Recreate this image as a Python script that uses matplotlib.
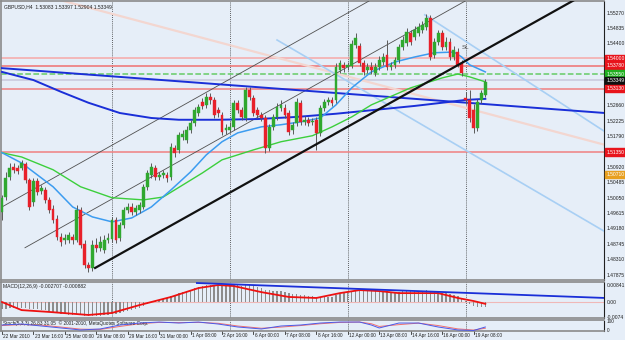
import matplotlib
matplotlib.use('Agg')
import matplotlib.pyplot as plt
import matplotlib.transforms as mtransforms
from matplotlib.patches import Rectangle

plt.rcParams['font.family'] = ['Liberation Sans', 'DejaVu Sans']

# ---------------- data ----------------
title = "GBPUSD,H4  1.53083 1.53397 1.52904 1.53349"

opens = [1.4966,1.5008,1.5065,1.5093,1.5090,1.5090,1.5102,1.5056,1.4994,1.5054,
         1.5025,1.5028,1.5000,1.4975,1.4946,1.4896,1.4887,1.4887,1.4896,1.4887,
         1.4972,1.4876,1.4817,1.4808,1.4873,1.4865,1.4859,1.4887,1.4890,1.4944,
         1.4893,1.4930,1.4972,1.4980,1.4966,1.4972,1.4980,1.5037,1.5071,1.5090,
         1.5065,1.5071,1.5071,1.5065,1.5147,1.5141,1.5178,1.5169,1.5197,1.5217,
         1.5245,1.5276,1.5268,1.5291,1.5282,1.5254,1.5240,1.5197,1.5197,1.5206,
         1.5274,1.5254,1.5231,1.5310,1.5288,1.5254,1.5240,1.5231,1.5147,1.5206,
         1.5234,1.5259,1.5259,1.5245,1.5197,1.5217,1.5274,1.5220,1.5226,1.5220,
         1.5226,1.5189,1.5259,1.5276,1.5282,1.5282,1.5367,1.5381,1.5375,1.5378,
         1.5437,1.5434,1.5386,1.5367,1.5375,1.5358,1.5375,1.5389,1.5409,1.5375,
         1.5381,1.5395,1.5431,1.5443,1.5471,1.5460,1.5471,1.5479,1.5488,1.5513,
         1.5409,1.5446,1.5471,1.5431,1.5446,1.5403,1.5417,1.5386,1.5288,1.5282,
         1.5254,1.5203,1.5282,1.5296]
highs = [1.5014,1.5079,1.5104,1.5104,1.5099,1.5113,1.5107,1.5062,1.5062,1.5062,
         1.5042,1.5037,1.5008,1.4986,1.4958,1.4907,1.4904,1.4910,1.4904,1.4986,
         1.4980,1.4887,1.4825,1.4887,1.4893,1.4899,1.4901,1.4907,1.4952,1.4952,
         1.4938,1.4980,1.4992,1.4992,1.4986,1.4994,1.5045,1.5085,1.5104,1.5099,
         1.5079,1.5085,1.5079,1.5161,1.5155,1.5192,1.5197,1.5209,1.5226,1.5262,
         1.5271,1.5288,1.5302,1.5302,1.5291,1.5262,1.5248,1.5214,1.5220,1.5282,
         1.5282,1.5262,1.5319,1.5319,1.5296,1.5262,1.5248,1.5240,1.5214,1.5243,
         1.5274,1.5282,1.5271,1.5254,1.5220,1.5288,1.5282,1.5237,1.5234,1.5231,
         1.5234,1.5268,1.5285,1.5291,1.5291,1.5386,1.5395,1.5389,1.5389,1.5451,
         1.5471,1.5443,1.5395,1.5386,1.5389,1.5386,1.5406,1.5415,1.5451,1.5389,
         1.5403,1.5440,1.5462,1.5485,1.5479,1.5491,1.5499,1.5505,1.5524,1.5522,
         1.5457,1.5479,1.5479,1.5460,1.5457,1.5434,1.5429,1.5395,1.5305,1.5310,
         1.5271,1.5285,1.5310,1.5341]
lows = [1.4944,1.5000,1.5056,1.5076,1.5073,1.5085,1.5048,1.4972,1.4983,1.5014,
        1.5017,1.4992,1.4963,1.4935,1.4887,1.4870,1.4876,1.4879,1.4876,1.4882,
        1.4865,1.4808,1.4797,1.4800,1.4853,1.4856,1.4851,1.4879,1.4882,1.4879,
        1.4884,1.4921,1.4963,1.4958,1.4958,1.4963,1.4975,1.5028,1.5062,1.5056,
        1.5056,1.5062,1.5051,1.5056,1.5121,1.5133,1.5169,1.5161,1.5189,1.5209,
        1.5237,1.5257,1.5259,1.5271,1.5231,1.5234,1.5183,1.5186,1.5189,1.5197,
        1.5245,1.5226,1.5223,1.5282,1.5237,1.5231,1.5223,1.5133,1.5138,1.5197,
        1.5226,1.5251,1.5231,1.5183,1.5186,1.5209,1.5212,1.5212,1.5209,1.5212,
        1.5141,1.5181,1.5251,1.5268,1.5265,1.5274,1.5358,1.5361,1.5367,1.5372,
        1.5429,1.5378,1.5352,1.5358,1.5355,1.5350,1.5367,1.5381,1.5367,1.5367,
        1.5372,1.5386,1.5423,1.5434,1.5437,1.5451,1.5462,1.5471,1.5479,1.5395,
        1.5400,1.5437,1.5423,1.5423,1.5395,1.5395,1.5375,1.5350,1.5271,1.5220,
        1.5189,1.5195,1.5274,1.5291]
closes = [1.5006,1.5062,1.5090,1.5085,1.5082,1.5104,1.5056,1.4980,1.5054,1.5023,
          1.5034,1.5000,1.4972,1.4944,1.4896,1.4882,1.4893,1.4901,1.4887,1.4972,
          1.4873,1.4817,1.4808,1.4873,1.4865,1.4882,1.4887,1.4893,1.4944,1.4887,
          1.4930,1.4972,1.4980,1.4966,1.4977,1.4986,1.5037,1.5076,1.5093,1.5065,
          1.5071,1.5076,1.5062,1.5150,1.5133,1.5183,1.5186,1.5197,1.5217,1.5254,
          1.5262,1.5265,1.5291,1.5282,1.5240,1.5245,1.5192,1.5203,1.5206,1.5274,
          1.5254,1.5234,1.5310,1.5291,1.5245,1.5240,1.5231,1.5147,1.5206,1.5234,
          1.5262,1.5268,1.5240,1.5192,1.5212,1.5276,1.5220,1.5226,1.5217,1.5223,
          1.5189,1.5259,1.5276,1.5282,1.5274,1.5375,1.5386,1.5372,1.5381,1.5440,
          1.5457,1.5386,1.5361,1.5375,1.5367,1.5375,1.5395,1.5403,1.5375,1.5381,
          1.5395,1.5431,1.5451,1.5474,1.5446,1.5479,1.5488,1.5494,1.5513,1.5403,
          1.5446,1.5471,1.5431,1.5446,1.5403,1.5423,1.5381,1.5358,1.5282,1.5231,
          1.5203,1.5276,1.5302,1.5333]

# moving averages (sampled at bar indices)
ma_fast_idx = [0,5,13,18,23,28,33,38,43,48,52,56,60,66,71,76,81,85,89,94,100,105,110,115,117,119,123]
ma_fast = [1.5133,1.5104,1.5037,1.4980,1.4952,1.4938,1.4949,1.4980,1.5028,1.5079,1.5127,1.5164,
           1.5189,1.5206,1.5212,1.5220,1.5231,1.5268,1.5316,1.5361,1.5389,1.5403,1.5415,1.5417,
           1.5403,1.5381,1.5361]
ma_mid_idx = [0,5,13,20,28,36,41,46,51,56,64,71,79,84,89,94,104,112,116,119,123]
ma_mid = [1.5133,1.5121,1.5085,1.5037,1.5006,1.5000,1.5008,1.5042,1.5076,1.5113,1.5141,1.5164,
          1.5181,1.5206,1.5234,1.5268,1.5316,1.5344,1.5355,1.5347,1.5333]
ma_slow_idx = [0,8,15,22,30,38,45,55,65,75,85,95,105,112,118,123]
ma_slow = [1.5361,1.5338,1.5305,1.5274,1.5245,1.5231,1.5226,1.5226,1.5228,1.5234,1.5243,1.5254,
           1.5265,1.5274,1.5282,1.5285]

# drawn objects: (bar, price) end points
trend_black = [(23.7, 1.4808), (146.0, 1.5566)]
channel_a = [(-0.5, 1.4977), (94.2, 1.5566)]
channel_b = [(5.85, 1.4865), (118.7, 1.5566)]
trend_blue = [(-0.5, 1.5372), (153.5, 1.5245)]
fan_light1 = [(107.6, 1.5522), (153.5, 1.5192)]
fan_light2 = [(70.0, 1.5451), (153.5, 1.4910)]
salmon1 = [(14.0, 1.5566), (153.5, 1.5155)]

levels = [1.5400, 1.5378, 1.5355, 1.5338, 1.5313, 1.5135]
level_colors = ['#f6a8a8', '#f07070', '#66cc66', '#c8c8dc', '#f08080', '#f08080']
level_styles = ['-', '-', '--', '-', '-', '-']
boxes = [(1.5400, '1.54000', '#e8141c'), (1.5378, '1.53780', '#e8141c'),
         (1.5355, '1.53550', '#20b020'), (1.5338, '1.53349', '#101010'),
         (1.5313, '1.53130', '#e8141c'), (1.5135, '1.51350', '#e8141c'),
         (1.5071, '1.50710', '#e8a020')]
price_ticks = ["1.55270","1.54835","1.54400","1.52660","1.52225","1.51790","1.50920",
               "1.50485","1.50050","1.49615","1.49180","1.48745","1.48310","1.47875"]

week_starts = [28, 58, 88, 118]
time_idx = [0,8,16,24,32,40,48,56,64,72,80,88,96,104,112,120]
time_labels = ["22 Mar 2010","23 Mar 16:00","25 Mar 00:00","26 Mar 08:00","29 Mar 16:00",
               "31 Mar 00:00","1 Apr 08:00","2 Apr 16:00","6 Apr 00:00","7 Apr 08:00",
               "8 Apr 16:00","12 Apr 00:00","13 Apr 08:00","14 Apr 16:00","16 Apr 00:00",
               "19 Apr 08:00"]

macd_main = [-0.0035,-0.0035,-0.0030,-0.0030,-0.0030,-0.0030,-0.0030,-0.0035,-0.0035,-0.0035,
             -0.0040,-0.0040,-0.0044,-0.0049,-0.0054,-0.0059,-0.0059,-0.0064,-0.0064,-0.0059,
             -0.0064,-0.0069,-0.0069,-0.0069,-0.0069,-0.0069,-0.0064,-0.0064,-0.0059,-0.0059,
             -0.0054,-0.0049,-0.0044,-0.0040,-0.0035,-0.0030,-0.0020,-0.0010,0.0000,0.0005,
             0.0010,0.0015,0.0020,0.0030,0.0035,0.0044,0.0049,0.0054,0.0059,0.0069,
             0.0074,0.0079,0.0084,0.0084,0.0084,0.0084,0.0079,0.0079,0.0079,0.0084,
             0.0084,0.0079,0.0084,0.0084,0.0079,0.0074,0.0069,0.0059,0.0059,0.0054,
             0.0054,0.0054,0.0049,0.0044,0.0040,0.0040,0.0035,0.0035,0.0030,0.0030,
             0.0025,0.0025,0.0025,0.0025,0.0025,0.0035,0.0040,0.0044,0.0049,0.0054,
             0.0059,0.0059,0.0059,0.0059,0.0054,0.0054,0.0054,0.0054,0.0054,0.0049,
             0.0049,0.0049,0.0054,0.0054,0.0054,0.0054,0.0054,0.0054,0.0059,0.0054,
             0.0049,0.0049,0.0044,0.0044,0.0040,0.0035,0.0030,0.0020,0.0005,-0.0010,
             -0.0020,-0.0025,-0.0025,-0.0027]
macd_sig_idx = [0,5,12,22,28,35,43,50,55,59,66,73,80,86,91,96,101,106,111,116,120,123]
macd_sig = [0.0000,-0.0040,-0.0049,-0.0064,-0.0054,-0.0015,0.0025,0.0069,0.0084,0.0079,0.0049,
            0.0025,0.0020,0.0044,0.0059,0.0054,0.0044,0.0044,0.0044,0.0020,0.0005,-0.0009]
macd_trend = [(49.6, 0.0094), (153.5, 0.0020)]

osc_idx = [0,5,10,15,20,25,30,35,40,45,50,55,60,66,71,76,81,86,91,94,96,101,106,111,116,120,123]
osc_main = [61,72,50,28,6,17,61,83,94,83,94,72,39,17,50,61,83,94,94,61,28,83,83,39,6,0,39]
osc_sig = [55,66,60,38,15,12,45,75,90,88,90,80,50,25,38,55,75,90,94,75,45,65,82,55,18,5,25]

# ---------------- layout ----------------
W, H = 625, 340
BG = '#e6eef8'
FS = 3.6
fig = plt.figure(figsize=(6.25, 3.4), dpi=100)
fig.patch.set_facecolor(BG)

def rect(x0, y0, x1, y1):
    return [x0 / W, 1 - y1 / H, (x1 - x0) / W, (y1 - y0) / H]

ax = fig.add_axes(rect(1, 1, 604, 280))
axm = fig.add_axes(rect(1, 282, 604, 318))
axs = fig.add_axes(rect(1, 320, 604, 331))

XL = (-0.25, 153.2)
for a in (ax, axm, axs):
    a.set_facecolor(BG)
    a.set_xlim(*XL)
    a.set_xticks([]); a.set_yticks([])
    for s in a.spines.values():
        s.set_color('#8a8a8a'); s.set_linewidth(1.2)
    a.spines['right'].set_color('#202020')
    a.spines['right'].set_linestyle((0, (1, 1)))
    a.spines['right'].set_linewidth(0.8)
    for w in week_starts:
        a.axvline(w, color='#303030', lw=0.6, ls=(0, (1, 1.5)), zorder=1)

ax.set_ylim(1.4774, 1.5561)
axm.set_ylim(-0.0079, 0.0099)
axs.set_ylim(-5.6, 116.7)

# horizontal levels
for lv, c, st in zip(levels, level_colors, level_styles):
    ax.axhline(lv, color=c, lw=1.1, ls=st, zorder=2)

def seg(a, pts, **kw):
    a.plot([p[0] for p in pts], [p[1] for p in pts], **kw)

seg(ax, salmon1, color='#f3d6d0', lw=1.6, zorder=2)
seg(ax, fan_light1, color='#a8cff4', lw=1.2, zorder=3)
seg(ax, fan_light2, color='#a8cff4', lw=1.2, zorder=3)
seg(ax, channel_a, color='#505050', lw=0.6, zorder=3)
seg(ax, channel_b, color='#505050', lw=0.6, zorder=3)
seg(ax, trend_blue, color='#1a2fd8', lw=1.4, zorder=4)
ax.plot(ma_slow_idx, ma_slow, color='#1a2fd8', lw=1.4, zorder=4)
ax.plot(ma_mid_idx, ma_mid, color='#3ccf3c', lw=1.0, zorder=4)
ax.plot(ma_fast_idx, ma_fast, color='#3c9cf0', lw=1.1, zorder=4)
seg(ax, trend_black, color='#111111', lw=1.6, zorder=6)

# candles
for i, (o, h, l, c) in enumerate(zip(opens, highs, lows, closes)):
    col = '#2fa82f' if c >= o else '#e8202a'
    ax.vlines(i, l, h, color='#5a5a5a', lw=0.7, zorder=5)
    lo, hi = min(o, c), max(o, c)
    if hi - lo < 0.00012:
        hi = lo + 0.00012
    ax.add_patch(Rectangle((i - 0.36, lo), 0.72, hi - lo, facecolor=col,
                           edgecolor=col, lw=0.3, zorder=5))

# text on main
ax.text(0.005, 0.99, title, transform=ax.transAxes, fontsize=FS,
        va='top', ha='left', color='#202020')
ax.text(117.0, 1.5425, "SL", fontsize=4.5, color='#505050', zorder=7)

# right axis price labels
bt = mtransforms.blended_transform_factory(ax.transAxes, ax.transData)
for s in price_ticks:
    ax.text(1.004, float(s), s, transform=bt, fontsize=FS, va='center',
            ha='left', color='#202020', clip_on=False)
for val, s, c in boxes:
    ax.add_patch(Rectangle((1.002, val - 0.001), 0.06, 0.002, transform=bt,
                           facecolor=c, edgecolor=c, clip_on=False, zorder=8))
    ax.text(1.004, val, s, transform=bt, fontsize=FS, va='center', ha='left',
            color='white', clip_on=False, zorder=9)

# MACD panel
axm.bar(range(len(macd_main)), macd_main, width=0.35, color='#8c8c8c', zorder=3)
axm.axhline(0, color='#f0b8b8', lw=0.8, zorder=2)
axm.plot(macd_sig_idx, macd_sig, color='#ee1111', lw=1.3, zorder=4)
seg(axm, macd_trend, color='#1a2fd8', lw=1.3, zorder=4)
axm.text(0.004, 0.95, "MACD(12,26,9) -0.002707 -0.000882", transform=axm.transAxes,
         fontsize=FS, va='top', ha='left', color='#202020')
bm = mtransforms.blended_transform_factory(axm.transAxes, axm.transData)
for v, s in [(0.00841, "0.00841"), (0.0, "0.00"), (-0.00746, "-0.0074")]:
    axm.text(1.004, v, s, transform=bm, fontsize=FS, va='center', ha='left',
             color='#202020', clip_on=False)

# oscillator panel
axs.plot(osc_idx, osc_sig, color='#f07070', lw=0.7, zorder=3)
axs.plot(osc_idx, osc_main, color='#4a5ae8', lw=0.7, zorder=4)
axs.text(0.004, 0.97, "Stoch(5,3,3) 26.83 31.05  \u00a9 2001-2010, MetaQuotes Software Corp.",
         transform=axs.transAxes, fontsize=3.4, va='top', ha='left', color='#202020')
bs = mtransforms.blended_transform_factory(axs.transAxes, axs.transData)
for v, s in [(100, "100"), (0, "0")]:
    axs.text(1.004, v, s, transform=bs, fontsize=3.4, va='center', ha='left',
             color='#202020', clip_on=False)

# time axis labels
tt = mtransforms.blended_transform_factory(axs.transData, fig.transFigure)
for i, s in zip(time_idx, time_labels):
    axs.text(i + 0.3, 1 - 336 / H, s, transform=tt, fontsize=3.4, va='center',
             ha='left', color='#202020', clip_on=False)
    axs.plot([i, i], [1 - 331 / H, 1 - 333.5 / H], transform=tt, color='#303030',
             lw=0.6, clip_on=False)

fig.savefig('out.png', dpi=100, facecolor=BG)
